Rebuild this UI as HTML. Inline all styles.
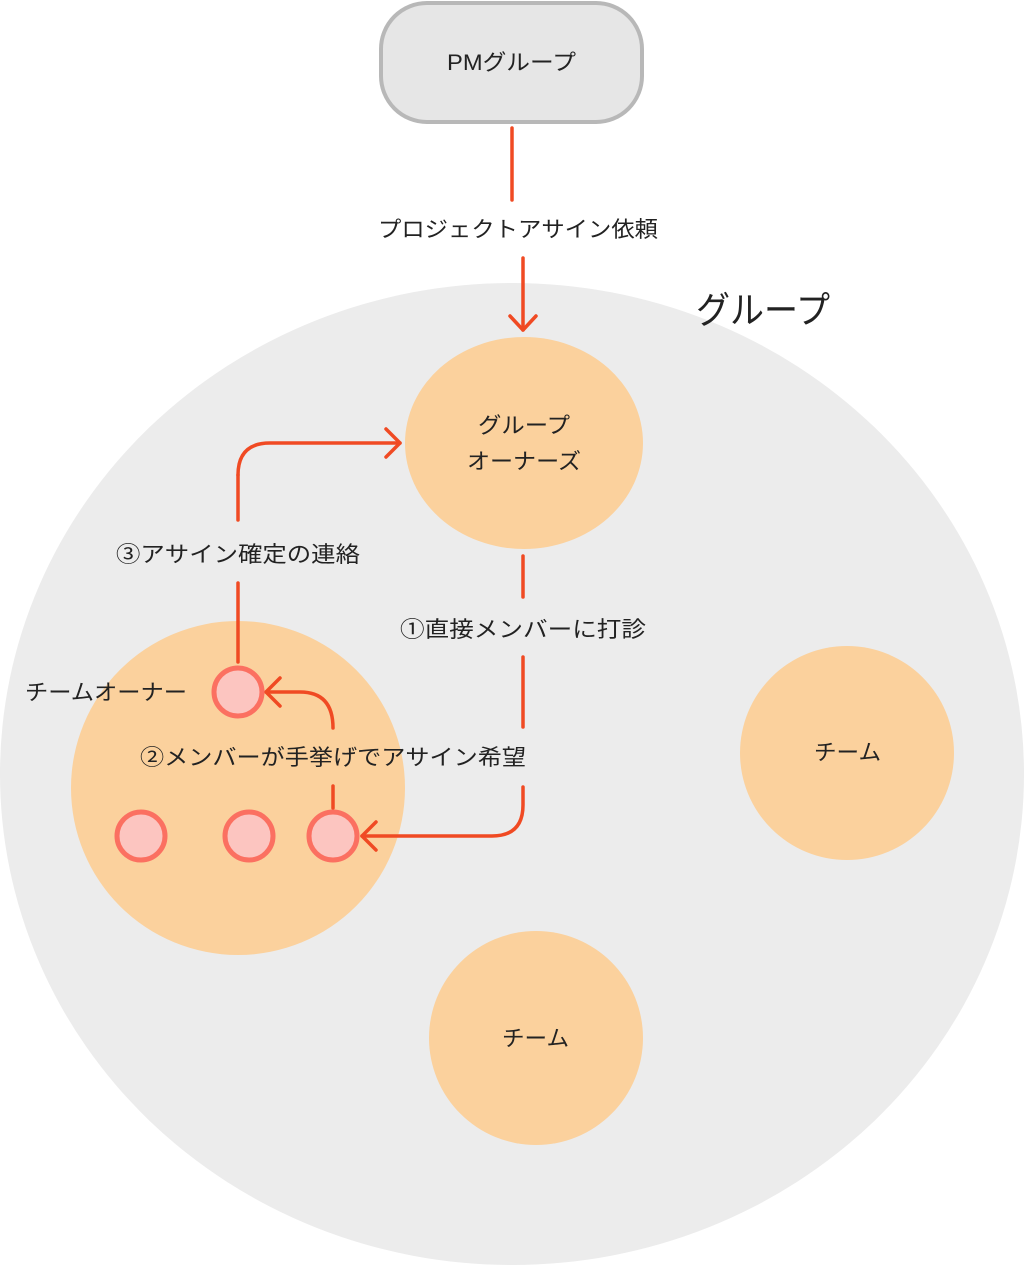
<!DOCTYPE html>
<html><head><meta charset="utf-8"><style>
body{margin:0;background:#fff}
svg text{font-family:"Liberation Sans","Noto Sans CJK JP",sans-serif;fill:#222}
</style></head><body>
<svg width="1024" height="1265" viewBox="0 0 1024 1265" xmlns="http://www.w3.org/2000/svg">
<ellipse cx="512" cy="774" rx="512" ry="491" fill="#ececec"/>
<text x="696" y="323" font-size="37" textLength="134" lengthAdjust="spacingAndGlyphs">グループ</text>
<rect x="381" y="3" width="261" height="119" rx="46" fill="#e6e6e6" stroke="#b8b8b8" stroke-width="4"/>
<text x="447" y="70" font-size="22" textLength="129" lengthAdjust="spacingAndGlyphs">PMグループ</text>
<g stroke="#f04a23" stroke-width="3.5" fill="none" stroke-linecap="round" stroke-linejoin="round">
<line x1="512" y1="128" x2="512" y2="200"/>
<line x1="523" y1="258" x2="523" y2="330"/>
<polyline points="510,316 523,330 536,316"/>
</g>
<text x="378" y="237" font-size="22" textLength="280" lengthAdjust="spacingAndGlyphs">プロジェクトアサイン依頼</text>
<ellipse cx="524" cy="443" rx="119" ry="106" fill="#fbd19d"/>
<text x="478" y="433" font-size="22" textLength="92" lengthAdjust="spacingAndGlyphs">グループ</text>
<text x="467" y="469" font-size="22" textLength="114" lengthAdjust="spacingAndGlyphs">オーナーズ</text>
<circle cx="238" cy="788" r="167" fill="#fbd19d"/>
<circle cx="847" cy="753" r="107" fill="#fbd19d"/>
<text x="814" y="760" font-size="22" textLength="67" lengthAdjust="spacingAndGlyphs">チーム</text>
<circle cx="536" cy="1038" r="107" fill="#fbd19d"/>
<text x="502" y="1046" font-size="22" textLength="67" lengthAdjust="spacingAndGlyphs">チーム</text>
<g stroke="#f04a23" stroke-width="3.5" fill="none" stroke-linecap="round" stroke-linejoin="round">
<line x1="238" y1="520" x2="238" y2="475"/>
<path d="M238,475 Q238,443 270,443 L400,443"/>
<polyline points="386,429 400,443 386,457"/>
<line x1="238" y1="583" x2="238" y2="662"/>
<line x1="523" y1="556" x2="523" y2="597"/>
<line x1="523" y1="657" x2="523" y2="727"/>
<path d="M523,787 L523,805 Q523,836 492,836 L362,836"/>
<polyline points="376,822 362,836 376,850"/>
<line x1="333" y1="786" x2="333" y2="808"/>
<path d="M333,728 Q333,692 300,692 L266,692"/>
<polyline points="280,678 266,692 280,706"/>
</g>
<g fill="#fcc5c0" stroke="#fb7061" stroke-width="5">
<circle cx="238" cy="692" r="24"/>
<circle cx="141" cy="836" r="24"/>
<circle cx="249" cy="836" r="24"/>
<circle cx="333" cy="836" r="24"/>
</g>
<text x="25" y="700" font-size="22" textLength="162" lengthAdjust="spacingAndGlyphs">チームオーナー</text>
<text x="116" y="562" font-size="22" textLength="244" lengthAdjust="spacingAndGlyphs">③アサイン確定の連絡</text>
<text x="400" y="637" font-size="22" textLength="246" lengthAdjust="spacingAndGlyphs">①直接メンバーに打診</text>
<text x="140" y="765" font-size="22" textLength="386" lengthAdjust="spacingAndGlyphs">②メンバーが手挙げでアサイン希望</text>
</svg>
</body></html>
